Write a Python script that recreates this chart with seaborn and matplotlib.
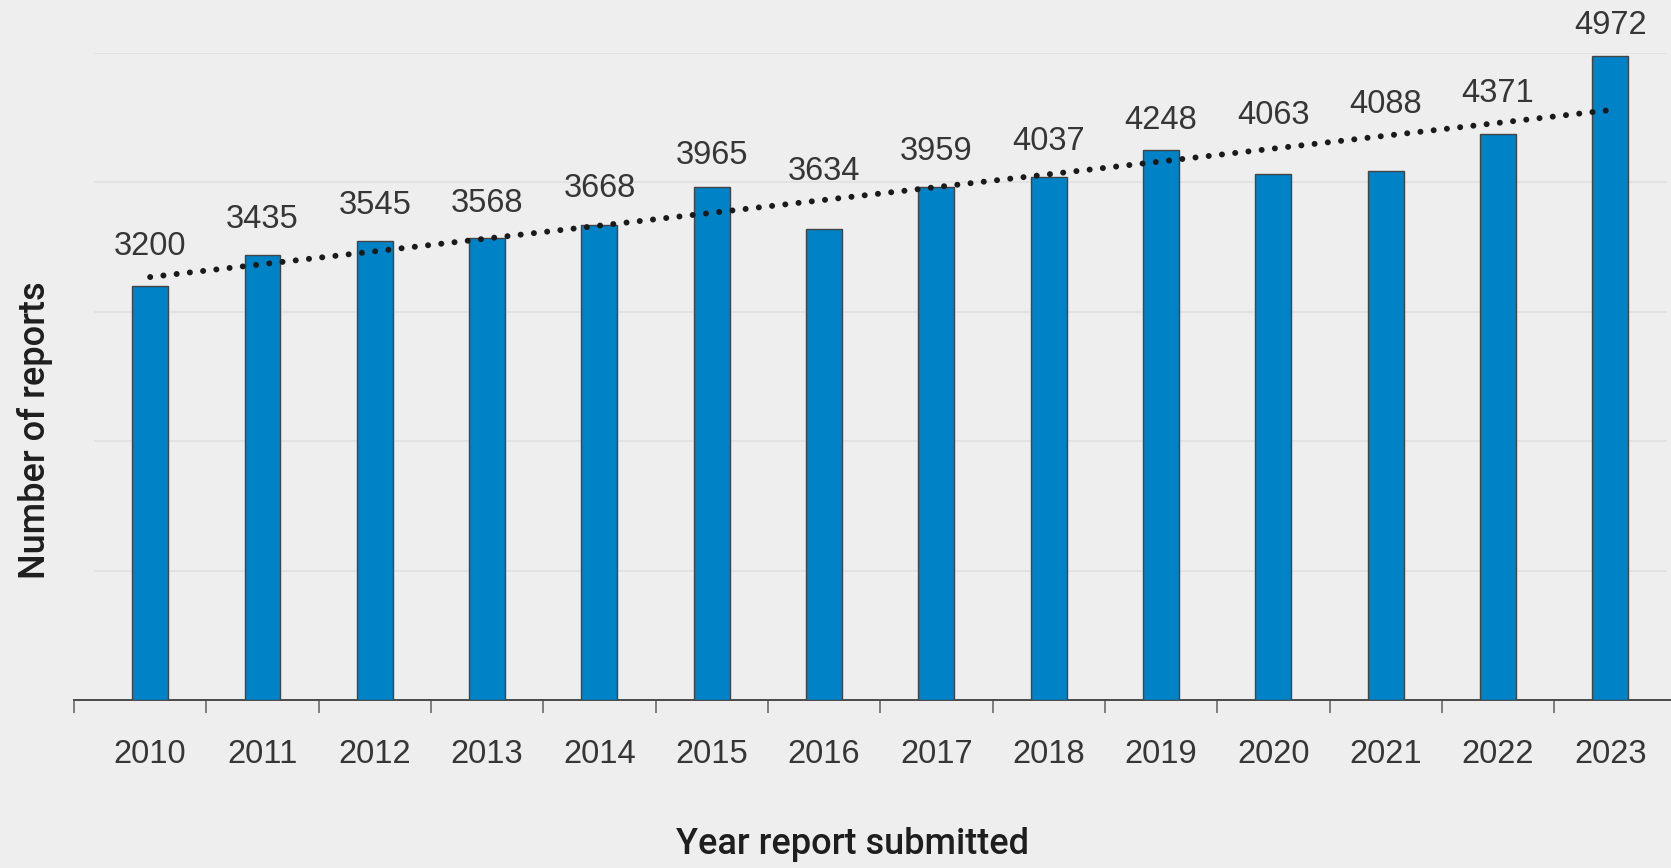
import numpy as np
import pandas as pd
import matplotlib
matplotlib.use("Agg")
import matplotlib.pyplot as plt
import seaborn as sns

# Annual report counts
years = ["2010", "2011", "2012", "2013", "2014", "2015", "2016",
         "2017", "2018", "2019", "2020", "2021", "2022", "2023"]
reports = [3200, 3435, 3545, 3568, 3668, 3965, 3634,
           3959, 4037, 4248, 4063, 4088, 4371, 4972]
y_gridlines = [1000, 2000, 3000, 4000, 5000]

# Vertical lift (pixels) of each value label above its bar, keeping
# labels clear of the trend line
label_lift_px = [31, 27, 27, 26, 28, 23, 49, 27, 27, 21, 50, 58, 32, 22]

BG = "#eeeeee"
BAR = "#0082c6"
TXT = "#363636"
NUM_FONT = ["Liberation Sans", "DejaVu Sans"]

sns.set_theme(style="white")
plt.rcParams["font.family"] = ["Roboto", "DejaVu Sans"]

W, H = 1671, 868
fig = plt.figure(figsize=(W / 100, H / 100), dpi=100, facecolor=BG)
ax_left, ax_bottom = 74 / W, (H - 700) / H
ax = fig.add_axes([ax_left, ax_bottom, 1 - ax_left, 647.5 / H], facecolor=BG)

df = pd.DataFrame({"year": years, "reports": reports})
sns.barplot(data=df, x="year", y="reports", color=BAR, width=0.32,
            edgecolor="#444444", linewidth=1.0, saturation=1, ax=ax, zorder=3)

# Horizontal gridlines spanning the category range
ax.hlines(y_gridlines, -0.5, len(years) - 0.5, color="#e0e0e0", lw=1.2, zorder=0)

# Linear trend line through the yearly counts (round dotted)
xs = np.arange(len(years))
slope, intercept = np.polyfit(xs, reports, 1)
ax.plot(xs, slope * xs + intercept, color="#1a1a1a", lw=4.3,
        linestyle=(0, (0.01, 2.22)), dash_capstyle="round",
        solid_capstyle="round", zorder=4)

# Value labels above bars
for i, (v, lift) in enumerate(zip(reports, label_lift_px)):
    ax.annotate(str(v), xy=(i, v), xytext=(0, lift * 0.72),
                textcoords="offset points", ha="center", va="baseline",
                fontsize=23.5, color=TXT, family=NUM_FONT, zorder=5)

ax.set_xlim(-0.678, len(years) - 1 + 0.54)
ax.set_ylim(0, 5000)
ax.set_yticks([])
ax.set_xlabel("")
ax.set_ylabel("")

for side in ["top", "right", "left"]:
    ax.spines[side].set_visible(False)
ax.spines["bottom"].set_color("#4a4a4a")
ax.spines["bottom"].set_linewidth(1.4)

ax.set_xticks(xs)
ax.set_xticklabels(years, fontsize=23.5, color=TXT, family=NUM_FONT)
ax.set_xticks([-0.678] + [i + 0.5 for i in range(len(years) - 1)], minor=True)
ax.tick_params(axis="x", which="major", length=0, pad=28)
ax.tick_params(axis="x", which="minor", length=9, width=1.2,
               color="#6a6a6a", direction="out", bottom=True)

fig.text(853 / W, 1 - 845 / H, "Year report submitted", ha="center", va="center",
         fontsize=26, color="#1e1e1e", fontweight="medium")
fig.text(35 / W, 1 - 430 / H, "Number of reports", ha="center", va="center",
         rotation=90, fontsize=26, color="#1e1e1e", fontweight="medium")

fig.savefig("out.png", dpi=100, facecolor=BG)
